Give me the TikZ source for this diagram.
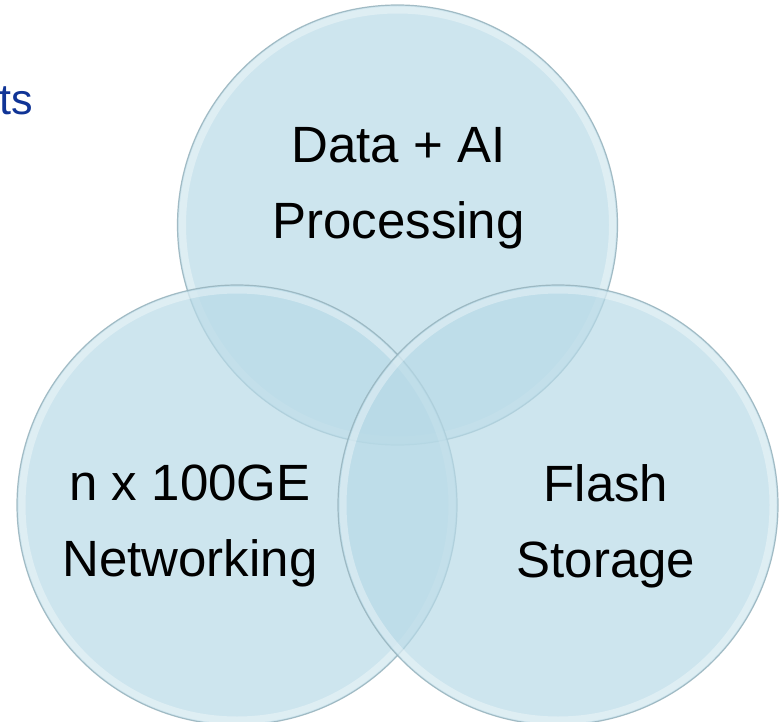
\documentclass[tikz,border=0pt]{standalone}
\usepackage{fontspec}
\setmainfont{Liberation Sans}
\definecolor{bubfill}{RGB}{184,218,231}
\definecolor{bubedge}{RGB}{150,178,188}
\definecolor{titleblue}{RGB}{16,52,150}
\tikzset{
  bubble/.style={circle, minimum size=440pt, inner sep=0pt, fill=bubfill, fill opacity=0.7,
                 draw=bubedge, draw opacity=0.85, line width=1.2pt},
  rim/.style={white, opacity=0.35, line width=7pt},
  label/.style={align=center, inner sep=0pt, anchor=north, text=black,
                font=\fontsize{51}{76}\selectfont},
}
\begin{document}
\begin{tikzpicture}[x=1pt, y=-1pt]
\clip (0,0) rectangle (781,722);
\fill[white] (0,0) rectangle (781,722);
\node[anchor=base east, inner sep=0pt, text=titleblue, font=\fontsize{43}{50}\selectfont] (title) at (33,115) {ts};
% circles
\node[bubble] (top) at (397.5,225) {};
\draw[rim] (top.center) circle (215pt);
\node[bubble] (left) at (237,505) {};
\draw[rim] (left.center) circle (215pt);
\node[bubble] (right) at (558,505) {};
\draw[rim] (right.center) circle (215pt);
% labels
\node[label] (ai) at (398.5,127) {Data + AI\\Processing};
\node[label] (net) at (190,465) {n x 100GE\\Networking};
\node[label] (flash) at (606,464) {Flash\\Storage};
\end{tikzpicture}
\end{document}
